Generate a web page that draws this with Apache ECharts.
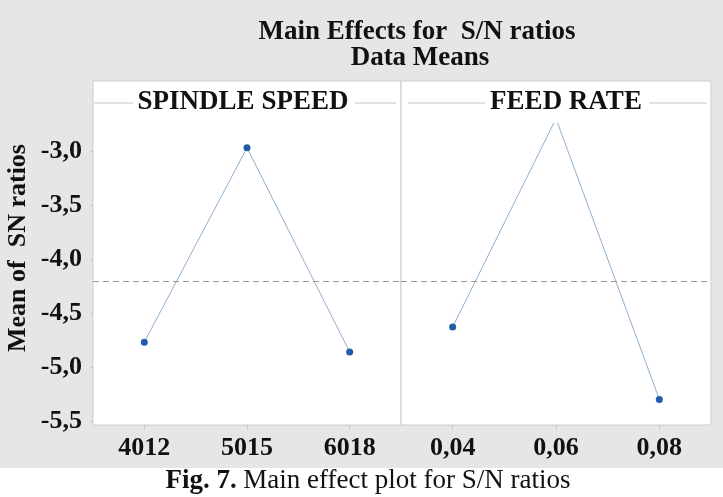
<!DOCTYPE html>
<html>
<head>
<meta charset="utf-8">
<script src="https://cdn.jsdelivr.net/npm/echarts@6/dist/echarts.min.js"></script>
<style>
  html, body { margin: 0; padding: 0; background: #fff; }
  #chart { width: 723px; height: 497px; }
</style>
</head>
<body>
<div id="chart"></div>
<script>
// --- donnees ---
const spindleLevels = ["4012", "5015", "6018"];
const spindleMeans = [-4.77, -2.97, -4.86];
const feedLevels = ["0,04", "0,06", "0,08"];
const feedMeans = [-4.63, -2.70, -5.30];
const yTicks = [-5.5, -5.0, -4.5, -4.0, -3.5, -3.0];

const FONT = "'Liberation Serif', 'DejaVu Serif', serif";
const fmt = (v) => Number(v).toFixed(1).replace(".", ",");
const mean = (arr) => arr.reduce((a, b) => a + b, 0) / arr.length;
const grandMean = mean(spindleMeans.concat(feedMeans));

const chart = echarts.init(document.getElementById("chart"));

function yAxisFor(gridIndex, showLabels) {
  return {
    type: "value",
    gridIndex,
    min: -5.537,
    max: -2.352,
    axisLine: { show: false },
    axisTick: { show: showLabels, customValues: yTicks, length: 3, lineStyle: { color: "#c8c8c8" } },
    splitLine: { show: false },
    axisLabel: {
      show: showLabels,
      customValues: yTicks,
      formatter: fmt,
      fontFamily: FONT,
      fontWeight: "bold",
      fontSize: 26,
      color: "#111",
      margin: 11
    },
    name: showLabels ? "Mean of  SN ratios" : "",
    nameLocation: "middle",
    nameRotate: 90,
    nameGap: 62,
    nameTextStyle: { fontFamily: FONT, fontWeight: "bold", fontSize: 26, color: "#111", padding: [0, 0, 0, 10] }
  };
}

function xAxisFor(gridIndex, cats) {
  return {
    type: "category",
    gridIndex,
    data: cats,
    boundaryGap: true,
    axisLine: { show: false },
    axisTick: { show: true, alignWithLabel: true, length: 4, lineStyle: { color: "#c8c8c8" } },
    axisLabel: { fontFamily: FONT, fontWeight: "bold", fontSize: 26, color: "#111", margin: 10 },
    splitLine: { show: false }
  };
}

function seriesFor(idx, values) {
  return {
    type: "line",
    xAxisIndex: idx,
    yAxisIndex: idx,
    data: values,
    symbol: "circle",
    symbolSize: 7,
    itemStyle: { color: "#1f5ea6" },
    lineStyle: { color: "#8fb0cc", width: 1 },
    z: 3,
    markLine: {
      silent: true,
      symbol: "none",
      label: { show: false },
      lineStyle: { color: "#9a9a9a", type: [6, 4], width: 1 },
      data: [{ yAxis: grandMean }]
    }
  };
}

// entete de panneau: trait gris + etiquette sur fond blanc
function header(text, cx, lineX1, lineX2, box) {
  return [
    {
      type: "line", z: 50,
      shape: { x1: lineX1, y1: 103, x2: lineX2, y2: 103 },
      style: { stroke: "#c4c4c4", lineWidth: 1 }
    },
    {
      type: "rect", z: 55,
      shape: box,
      style: { fill: "#fff" }
    },
    {
      type: "text", z: 60,
      x: cx, y: 102,
      style: { text, fill: "#111", font: "bold 27px " + FONT, align: "center", verticalAlign: "middle" }
    }
  ];
}

chart.setOption({
  backgroundColor: "#fff",
  animation: false,
  grid: [
    { left: 93, width: 308, top: 81, height: 344, show: true, backgroundColor: "#fff", borderColor: "#cdcdcd", borderWidth: 1 },
    { left: 401, right: 12, top: 81, height: 344, show: true, backgroundColor: "#fff", borderColor: "#cdcdcd", borderWidth: 1 }
  ],
  xAxis: [xAxisFor(0, spindleLevels), xAxisFor(1, feedLevels)],
  yAxis: [yAxisFor(0, true), yAxisFor(1, false)],
  series: [seriesFor(0, spindleMeans), seriesFor(1, feedMeans)],
  graphic: [
    { type: "rect", z: -100, shape: { x: 0, y: 0, width: 723, height: 468 }, style: { fill: "#e6e6e6" }, silent: true },
    {
      type: "text", z: 10, x: 417, y: 32,
      style: { text: "Main Effects for  S/N ratios", fill: "#111", font: "bold 27px " + FONT, align: "center", verticalAlign: "middle" }
    },
    {
      type: "text", z: 10, x: 420, y: 58,
      style: { text: "Data Means", fill: "#111", font: "bold 27px " + FONT, align: "center", verticalAlign: "middle" }
    },
    ...header("SPINDLE SPEED", 243, 94, 396, { x: 133, y: 88, width: 222, height: 30 }),
    ...header("FEED RATE", 566, 408, 707, { x: 485, y: 88, width: 164, height: 35 }),
    {
      type: "text", z: 10, x: 368, y: 481,
      style: {
        text: "{b|Fig. 7.}  {n|Main effect plot for S/N ratios}",
        align: "center", verticalAlign: "middle",
        rich: {
          b: { font: "bold 27px " + FONT, fill: "#111" },
          n: { font: "27px " + FONT, fill: "#111" }
        }
      }
    }
  ]
});
</script>
</body>
</html>
